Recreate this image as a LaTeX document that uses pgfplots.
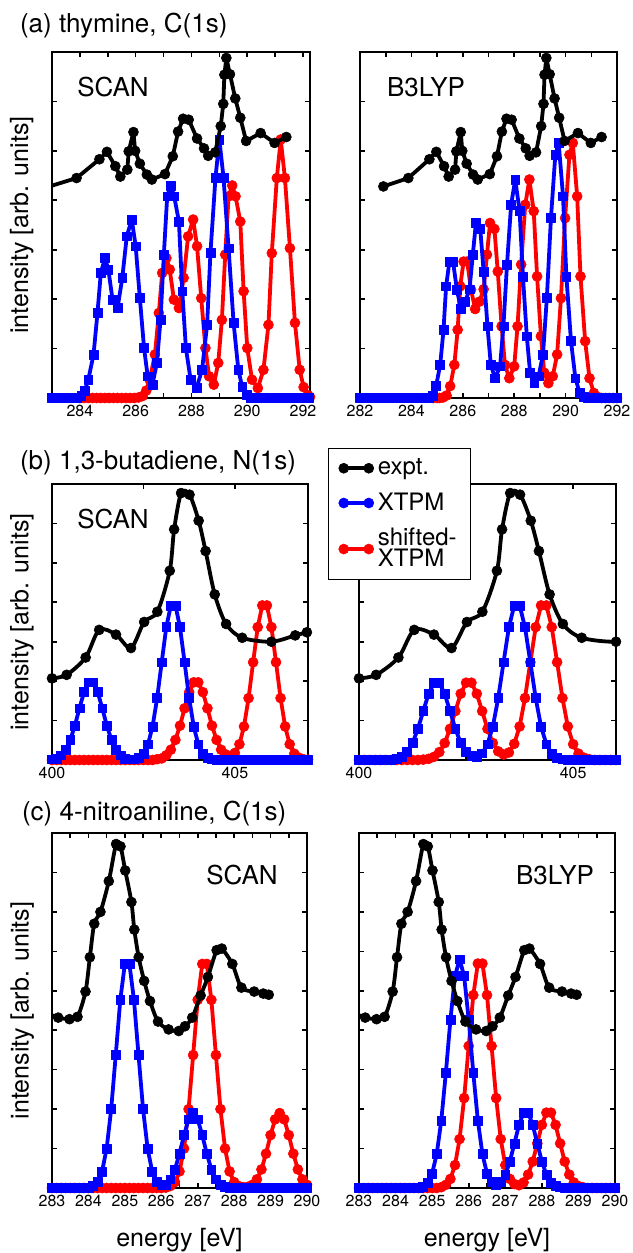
\documentclass[border=0pt]{standalone}
\usepackage{fontspec}
\setmainfont{TeX Gyre Heros}
\usepackage{pgfplots}
\usepackage{pgfplotstable}
\pgfplotsset{compat=1.18}

% experimental spectra (shared by the two panels of each row)
\pgfplotstableread[row sep=\\]{x y\\
282.91 4.28\\ 283.88 4.45\\ 284.70 4.83\\ 284.97 4.98\\ 285.27 4.69\\ 285.45 4.48\\
285.70 4.62\\ 285.75 4.99\\ 285.92 5.38\\ 285.98 5.00\\ 286.15 4.74\\ 286.40 4.52\\
286.58 4.42\\ 287.05 4.53\\ 287.33 4.89\\ 287.52 5.39\\ 287.70 5.65\\ 287.90 5.63\\
288.20 5.25\\ 288.45 5.05\\ 288.60 4.90\\ 288.85 4.97\\ 289.05 5.50\\ 289.14 5.95\\
289.18 6.54\\ 289.25 6.88\\ 289.38 6.55\\ 289.57 6.06\\ 289.75 5.67\\ 289.96 5.20\\
290.48 5.36\\ 290.98 5.16\\ 291.40 5.28\\
}\expA
\pgfplotstableread[row sep=\\]{x y\\
400.00 2.07\\ 400.40 2.16\\ 400.92 2.60\\ 401.29 3.30\\ 401.75 3.18\\ 402.16 2.84\\
402.52 3.50\\ 402.88 3.76\\ 403.22 4.80\\ 403.34 5.85\\ 403.53 6.77\\ 403.76 6.73\\
404.01 6.07\\ 404.20 5.30\\ 404.45 4.20\\ 404.76 3.45\\ 405.20 3.10\\ 406.00 3.00\\
406.65 3.16\\ 406.97 3.24\\
}\expB
\pgfplotstableread[row sep=\\]{x y\\
283.00 4.38\\ 283.17 4.32\\ 283.48 4.28\\ 283.70 4.34\\ 283.92 4.98\\ 284.04 5.85\\
284.16 6.70\\ 284.33 7.00\\ 284.56 7.78\\ 284.76 8.72\\ 284.88 8.66\\ 285.01 8.05\\
285.18 7.25\\ 285.26 6.55\\ 285.38 5.85\\ 285.53 5.25\\ 285.69 4.74\\ 285.91 4.22\\
286.20 4.02\\ 286.48 3.98\\ 286.65 4.10\\ 286.85 4.32\\ 287.08 4.88\\ 287.28 5.35\\
287.52 6.03\\ 287.66 6.07\\ 287.95 5.68\\ 288.20 5.08\\ 288.55 4.98\\ 288.80 4.93\\
288.95 4.90\\
}\expC

% (a) thymine, SCAN
\pgfplotstableread[row sep=\\]{x y\\
283.00 0\\ 283.15 0\\ 283.30 0\\ 283.45 0\\ 283.60 0\\ 283.75 0\\ 283.90 0.01\\
284.05 0.04\\ 284.18 0.15\\ 284.30 0.37\\ 284.49 0.88\\ 284.63 1.72\\ 284.75 2.53\\
284.90 2.83\\ 285.02 2.60\\ 285.17 1.99\\ 285.35 1.82\\ 285.52 2.43\\ 285.68 3.27\\
285.86 3.61\\ 286.00 3.07\\ 286.15 2.02\\ 286.30 1.01\\ 286.43 0.44\\ 286.60 0.27\\
286.76 0.71\\ 286.89 1.58\\ 287.01 2.90\\ 287.13 4.08\\ 287.26 4.30\\ 287.38 4.08\\
287.55 3.57\\ 287.67 2.16\\ 287.80 1.01\\ 287.97 0.37\\ 288.18 0.20\\ 288.38 0.57\\
288.56 1.48\\ 288.68 2.93\\ 288.86 4.45\\ 289.00 5.23\\ 289.15 4.45\\ 289.33 3.03\\
289.51 1.52\\ 289.68 0.57\\ 289.82 0.22\\ 289.97 0.06\\ 290.12 0\\ 290.27 0\\
290.42 0\\ 290.57 0\\ 290.72 0\\ 290.87 0\\ 291.02 0\\ 291.17 0\\ 291.32 0\\
291.47 0\\ 291.62 0\\ 291.77 0\\ 291.92 0\\ 292.07 0\\ 292.22 0\\
}\bluAa
\pgfplotstableread[row sep=\\]{x y\\
284.00 0\\ 284.15 0\\ 284.30 0\\ 284.45 0\\ 284.60 0\\ 284.75 0\\ 284.90 0\\
285.05 0\\ 285.20 0\\ 285.35 0\\ 285.50 0\\ 285.65 0\\ 285.80 0\\ 285.95 0\\
286.10 0.01\\ 286.25 0.04\\ 286.38 0.15\\ 286.50 0.37\\ 286.69 0.88\\ 286.83 1.72\\
286.95 2.53\\ 287.10 2.83\\ 287.22 2.60\\ 287.37 1.99\\ 287.55 1.82\\ 287.72 2.43\\
287.88 3.27\\ 288.06 3.61\\ 288.20 3.07\\ 288.35 2.02\\ 288.50 1.01\\ 288.63 0.44\\
288.80 0.27\\ 288.96 0.71\\ 289.09 1.58\\ 289.21 2.90\\ 289.33 4.08\\ 289.46 4.30\\
289.58 4.08\\ 289.75 3.57\\ 289.87 2.16\\ 290.00 1.01\\ 290.17 0.37\\ 290.38 0.20\\
290.58 0.57\\ 290.76 1.48\\ 290.88 2.93\\ 291.06 4.45\\ 291.20 5.23\\ 291.35 4.45\\
291.53 3.03\\ 291.71 1.52\\ 291.88 0.57\\ 292.02 0.22\\ 292.17 0.06\\ 292.25 0.02\\
}\redAa
% (a) thymine, B3LYP
\pgfplotstableread[row sep=\\]{x y\\
282.00 0\\ 282.15 0\\ 282.30 0\\ 282.45 0\\ 282.60 0\\ 282.75 0\\ 282.90 0\\
283.05 0\\ 283.20 0\\ 283.35 0\\ 283.50 0\\ 283.65 0\\ 283.80 0\\ 283.95 0\\
284.10 0\\ 284.25 0\\ 284.40 0\\ 284.55 0\\ 284.68 0.01\\ 284.82 0.05\\ 284.96 0.24\\
285.12 0.67\\ 285.25 1.38\\ 285.35 2.26\\ 285.48 2.76\\ 285.62 2.76\\ 285.77 2.19\\
285.93 1.80\\ 286.10 1.95\\ 286.26 2.20\\ 286.39 2.90\\ 286.51 3.54\\ 286.68 3.42\\
286.81 2.56\\ 286.96 1.45\\ 287.09 0.67\\ 287.26 0.40\\ 287.45 0.64\\ 287.58 1.45\\
287.72 2.70\\ 287.88 3.91\\ 288.04 4.42\\ 288.21 3.78\\ 288.34 2.46\\ 288.49 1.25\\
288.62 0.51\\ 288.78 0.30\\ 288.95 0.44\\ 289.12 0.88\\ 289.27 2.02\\ 289.43 3.64\\
289.60 4.92\\ 289.73 5.16\\ 289.90 4.08\\ 290.03 2.46\\ 290.21 1.15\\ 290.38 0.40\\
290.55 0.10\\ 290.70 0.02\\ 290.85 0\\ 291.00 0\\ 291.15 0\\ 291.30 0\\ 291.45 0\\
291.60 0\\ 291.75 0\\ 291.90 0\\ 292.00 0\\
}\bluAb
\pgfplotstableread[row sep=\\]{x y\\
284.85 0\\ 285.00 0\\ 285.10 0\\ 285.23 0.01\\ 285.37 0.05\\ 285.51 0.24\\
285.67 0.67\\ 285.80 1.38\\ 285.90 2.26\\ 286.03 2.76\\ 286.17 2.76\\ 286.32 2.19\\
286.48 1.80\\ 286.65 1.95\\ 286.81 2.20\\ 286.94 2.90\\ 287.06 3.54\\ 287.23 3.42\\
287.36 2.56\\ 287.51 1.45\\ 287.64 0.67\\ 287.81 0.40\\ 288.00 0.64\\ 288.13 1.45\\
288.27 2.70\\ 288.43 3.91\\ 288.59 4.42\\ 288.76 3.78\\ 288.89 2.46\\ 289.04 1.25\\
289.17 0.51\\ 289.33 0.30\\ 289.50 0.44\\ 289.67 0.88\\ 289.82 2.02\\ 289.98 3.64\\
290.15 4.92\\ 290.28 5.16\\ 290.45 4.08\\ 290.58 2.46\\ 290.76 1.15\\ 290.93 0.40\\
291.10 0.10\\ 291.25 0.02\\ 291.40 0\\ 291.55 0\\ 291.70 0\\ 291.85 0\\ 292.00 0\\
}\redAb

% (b) 1,3-butadiene, SCAN
\pgfplotstableread[row sep=\\]{x y\\
400 0.02\\ 400.125 0.04\\ 400.25 0.12\\ 400.375 0.26\\ 400.5 0.51\\ 400.625 0.87\\
400.75 1.31\\ 400.875 1.72\\ 401 1.97\\ 401.125 1.97\\ 401.25 1.72\\ 401.375 1.31\\
401.5 0.87\\ 401.625 0.51\\ 401.75 0.26\\ 401.875 0.12\\ 402 0.04\\ 402.125 0.02\\
402.25 0.02\\ 402.375 0.06\\ 402.5 0.16\\ 402.625 0.40\\ 402.75 0.85\\ 402.875 1.57\\
403 2.48\\ 403.125 3.37\\ 403.25 3.92\\ 403.375 3.92\\ 403.5 3.37\\ 403.625 2.48\\
403.75 1.57\\ 403.875 0.85\\ 404 0.40\\ 404.125 0.16\\ 404.25 0.06\\ 404.375 0.02\\
404.5 0\\ 404.625 0\\ 404.75 0\\ 404.875 0\\ 405 0\\ 405.125 0\\ 405.25 0\\
405.375 0\\ 405.5 0\\ 405.625 0\\ 405.75 0\\ 405.875 0\\ 406 0\\ 406.125 0\\
406.25 0\\ 406.375 0\\ 406.5 0\\ 406.625 0\\ 406.75 0\\ 406.875 0\\ 407 0\\
}\bluBa
\pgfplotstableread[row sep=\\]{x y\\
400 0\\ 400.125 0\\ 400.25 0\\ 400.375 0\\ 400.5 0\\ 400.625 0\\ 400.75 0\\
400.875 0\\ 401 0\\ 401.125 0\\ 401.25 0\\ 401.375 0\\ 401.5 0\\ 401.625 0\\
401.75 0\\ 401.875 0\\ 402 0\\ 402.125 0\\ 402.25 0\\ 402.375 0\\ 402.5 0\\
402.625 0\\ 402.75 0\\ 402.875 0.02\\ 403 0.04\\ 403.125 0.12\\ 403.25 0.26\\
403.375 0.51\\ 403.5 0.87\\ 403.625 1.31\\ 403.75 1.72\\ 403.875 1.97\\ 404 1.97\\
404.125 1.72\\ 404.25 1.31\\ 404.375 0.87\\ 404.5 0.51\\ 404.625 0.26\\ 404.75 0.14\\
404.875 0.10\\ 405 0.18\\ 405.125 0.40\\ 405.25 0.85\\ 405.375 1.57\\ 405.5 2.48\\
405.625 3.37\\ 405.75 3.92\\ 405.875 3.92\\ 406 3.37\\ 406.125 2.48\\ 406.25 1.57\\
406.375 0.85\\ 406.5 0.40\\ 406.625 0.16\\ 406.75 0.06\\ 406.875 0.02\\ 407 0.01\\
}\redBa
% (b) 1,3-butadiene, B3LYP
\pgfplotstableread[row sep=\\]{x y\\
400 0\\ 400.125 0\\ 400.25 0\\ 400.375 0\\ 400.5 0\\ 400.625 0\\ 400.75 0.01\\
400.875 0.03\\ 401 0.08\\ 401.125 0.20\\ 401.25 0.43\\ 401.375 0.79\\ 401.5 1.24\\
401.625 1.68\\ 401.75 1.96\\ 401.875 1.96\\ 402 1.68\\ 402.125 1.24\\ 402.25 0.79\\
402.375 0.43\\ 402.5 0.20\\ 402.625 0.10\\ 402.75 0.09\\ 402.875 0.17\\ 403 0.40\\
403.125 0.85\\ 403.25 1.57\\ 403.375 2.48\\ 403.5 3.37\\ 403.625 3.92\\ 403.75 3.92\\
403.875 3.37\\ 404 2.48\\ 404.125 1.57\\ 404.25 0.85\\ 404.375 0.40\\ 404.5 0.16\\
404.625 0.06\\ 404.75 0.02\\ 404.875 0\\ 405 0\\ 405.125 0\\ 405.25 0\\ 405.375 0\\
405.5 0\\ 405.625 0\\ 405.75 0\\ 405.875 0\\ 406 0\\
}\bluBb
\pgfplotstableread[row sep=\\]{x y\\
400 0\\ 400.125 0\\ 400.25 0\\ 400.375 0\\ 400.5 0\\ 400.625 0\\ 400.75 0\\
400.875 0\\ 401 0\\ 401.125 0\\ 401.25 0\\ 401.375 0\\ 401.5 0.01\\ 401.625 0.03\\
401.75 0.08\\ 401.875 0.20\\ 402 0.43\\ 402.125 0.79\\ 402.25 1.24\\ 402.375 1.68\\
402.5 1.96\\ 402.625 1.96\\ 402.75 1.68\\ 402.875 1.24\\ 403 0.79\\ 403.125 0.43\\
403.25 0.22\\ 403.375 0.14\\ 403.5 0.19\\ 403.625 0.41\\ 403.75 0.85\\ 403.875 1.57\\
404 2.48\\ 404.125 3.37\\ 404.25 3.92\\ 404.375 3.92\\ 404.5 3.37\\ 404.625 2.48\\
404.75 1.57\\ 404.875 0.85\\ 405 0.40\\ 405.125 0.16\\ 405.25 0.06\\ 405.375 0.02\\
405.5 0\\ 405.625 0\\ 405.75 0\\ 405.875 0\\ 406 0\\
}\redBb

% (c) 4-nitroaniline, SCAN
\pgfplotstableread[row sep=\\]{x y\\
283 0\\ 283.125 0\\ 283.25 0\\ 283.375 0\\ 283.5 0\\ 283.625 0\\ 283.75 0\\
283.875 0\\ 284 0.01\\ 284.125 0.05\\ 284.25 0.15\\ 284.375 0.42\\ 284.5 1.00\\
284.625 2.00\\ 284.75 3.37\\ 284.875 4.77\\ 285 5.68\\ 285.125 5.68\\ 285.25 4.77\\
285.375 3.37\\ 285.5 2.00\\ 285.625 1.00\\ 285.75 0.42\\ 285.875 0.16\\ 286 0.08\\
286.125 0.09\\ 286.25 0.22\\ 286.375 0.47\\ 286.5 0.87\\ 286.625 1.34\\ 286.75 1.74\\
286.875 1.90\\ 287 1.74\\ 287.125 1.34\\ 287.25 0.87\\ 287.375 0.47\\ 287.5 0.22\\
287.625 0.08\\ 287.75 0.03\\ 287.875 0.01\\ 288 0\\ 288.125 0\\ 288.25 0\\
288.375 0\\ 288.5 0\\ 288.625 0\\ 288.75 0\\ 288.875 0\\ 289 0\\ 289.125 0\\
289.25 0\\ 289.375 0\\ 289.5 0\\ 289.625 0\\ 289.75 0\\ 289.875 0\\ 290 0\\
}\bluCa
\pgfplotstableread[row sep=\\]{x y\\
283 0\\ 283.125 0\\ 283.25 0\\ 283.375 0\\ 283.5 0\\ 283.625 0\\ 283.75 0\\
283.875 0\\ 284 0\\ 284.125 0\\ 284.25 0\\ 284.375 0\\ 284.5 0\\ 284.625 0\\
284.75 0\\ 284.875 0\\ 285 0\\ 285.125 0\\ 285.25 0\\ 285.375 0\\ 285.5 0\\
285.625 0\\ 285.75 0\\ 285.875 0\\ 286 0\\ 286.125 0.01\\ 286.25 0.05\\
286.375 0.15\\ 286.5 0.42\\ 286.625 1.00\\ 286.75 2.00\\ 286.875 3.37\\ 287 4.77\\
287.125 5.68\\ 287.25 5.68\\ 287.375 4.77\\ 287.5 3.37\\ 287.625 2.00\\ 287.75 1.00\\
287.875 0.42\\ 288 0.15\\ 288.125 0.05\\ 288.25 0.02\\ 288.375 0.03\\ 288.5 0.08\\
288.625 0.22\\ 288.75 0.47\\ 288.875 0.87\\ 289 1.34\\ 289.125 1.74\\ 289.25 1.90\\
289.375 1.74\\ 289.5 1.34\\ 289.625 0.87\\ 289.75 0.47\\ 289.875 0.22\\ 290 0.08\\
}\redCa
% (c) 4-nitroaniline, B3LYP
\pgfplotstableread[row sep=\\]{x y\\
283 0\\ 283.125 0\\ 283.25 0\\ 283.375 0\\ 283.5 0\\ 283.625 0\\ 283.75 0\\
283.875 0\\ 284 0\\ 284.125 0\\ 284.25 0\\ 284.375 0\\ 284.5 0\\ 284.625 0.01\\
284.75 0.04\\ 284.875 0.14\\ 285 0.37\\ 285.125 0.86\\ 285.25 1.71\\ 285.375 2.92\\
285.5 4.27\\ 285.625 5.37\\ 285.75 5.80\\ 285.875 5.37\\ 286 4.27\\ 286.125 2.92\\
286.25 1.71\\ 286.375 0.86\\ 286.5 0.37\\ 286.625 0.16\\ 286.75 0.09\\ 286.875 0.15\\
287 0.34\\ 287.125 0.67\\ 287.25 1.13\\ 287.375 1.60\\ 287.5 1.91\\ 287.625 1.91\\
287.75 1.60\\ 287.875 1.13\\ 288 0.67\\ 288.125 0.34\\ 288.25 0.14\\ 288.375 0.05\\
288.5 0.02\\ 288.625 0\\ 288.75 0\\ 288.875 0\\ 289 0\\ 289.125 0\\ 289.25 0\\
289.375 0\\ 289.5 0\\ 289.625 0\\ 289.75 0\\ 289.875 0\\ 290 0\\
}\bluCb
\pgfplotstableread[row sep=\\]{x y\\
283 0\\ 283.125 0\\ 283.25 0\\ 283.375 0\\ 283.5 0\\ 283.625 0\\ 283.75 0\\
283.875 0\\ 284 0\\ 284.125 0\\ 284.25 0\\ 284.375 0\\ 284.5 0\\ 284.625 0\\
284.75 0\\ 284.875 0\\ 285 0\\ 285.125 0\\ 285.25 0.02\\ 285.375 0.08\\ 285.5 0.23\\
285.625 0.58\\ 285.75 1.24\\ 285.875 2.28\\ 286 3.60\\ 286.125 4.89\\ 286.25 5.69\\
286.375 5.69\\ 286.5 4.89\\ 286.625 3.60\\ 286.75 2.28\\ 286.875 1.24\\ 287 0.58\\
287.125 0.23\\ 287.25 0.10\\ 287.375 0.07\\ 287.5 0.14\\ 287.625 0.34\\ 287.75 0.67\\
287.875 1.13\\ 288 1.60\\ 288.125 1.91\\ 288.25 1.91\\ 288.375 1.60\\ 288.5 1.13\\
288.625 0.67\\ 288.75 0.34\\ 288.875 0.14\\ 289 0.05\\ 289.125 0.02\\ 289.25 0\\
289.375 0\\ 289.5 0\\ 289.625 0\\ 289.75 0\\ 289.875 0\\ 290 0\\
}\redCb

\pgfplotsset{
  /pgf/number format/assume math mode=true,
  panel/.style={
    scale only axis, clip mode=individual,
    axis line style={line width=1pt},
    tick align=inside, tick style={line width=0.8pt, black},
    major tick length=2.6pt, minor tick length=2.6pt,
    ymin=0, ytick distance=1, yticklabels={},
    minor x tick num=1,
    xticklabel style={font=\fontsize{8}{9}\selectfont},
    label style={font=\fontsize{12.5}{14}\selectfont},
    ylabel style={at={(axis description cs:-0.117,0.5)}, anchor=center},
    xlabel style={at={(axis description cs:0.5,-0.146)}, anchor=center},
  },
  ex/.style={black, line width=1.9pt, line join=round, mark=*, mark size=2.5pt,
    mark options={line width=0.3pt}},
  xt/.style={blue, line width=1.9pt, line join=round, mark=square*, mark size=2.2pt,
    mark options={line width=0.3pt}},
  sx/.style={red, line width=1.9pt, line join=round, mark=*, mark size=2.5pt,
    mark options={line width=0.3pt}},
}

\begin{document}
\begin{tikzpicture}
\useasboundingbox (0,0) rectangle (316pt,626.5pt);

% ---- row (a)
\begin{axis}[panel, at={(26pt,427.5pt)}, anchor=south west, width=129pt, height=173pt,
  xmin=283, xmax=292.25, ymax=7, xtick={284,286,...,292},
  ylabel={intensity [arb. units]}]
\addplot[sx] table {\redAa};
\addplot[xt] table {\bluAa};
\addplot[ex, mark=none] table {\expA};
\addplot[ex, only marks, restrict x to domain=283:293] table {\expA};
\end{axis}
\begin{axis}[panel, at={(180pt,427.5pt)}, anchor=south west, width=128.5pt, height=173pt,
  xmin=282, xmax=292, ymax=7, xtick={282,284,...,292}]
\addplot[sx] table {\redAb};
\addplot[xt] table {\bluAb};
\addplot[ex] table {\expA};
\end{axis}

% ---- row (b)
\begin{axis}[panel, at={(26pt,246.5pt)}, anchor=south west, width=128pt, height=138pt,
  xmin=400, xmax=407, ymax=7, xtick={400,405},
  ylabel={intensity [arb. units]}]
\addplot[sx] table {\redBa};
\addplot[xt] table {\bluBa};
\addplot[ex, mark=none, smooth, tension=0.5] table {\expB};
\addplot[ex, only marks] table {\expB};
\end{axis}
\begin{axis}[panel, at={(179.5pt,246.5pt)}, anchor=south west, width=128.5pt, height=138pt,
  xmin=400, xmax=406, ymax=7, xtick={400,405},
  legend style={at={(-0.12,1.13)}, anchor=north west, draw=black, line width=0.6pt,
    fill=white, font=\fontsize{12}{10.5}\selectfont, cells={anchor=west, align=left},
    row sep=3.5pt, inner xsep=5pt, inner ysep=3pt},
  legend image code/.code={\draw[#1, line width=1.9pt, mark size=2.5pt,
    mark options={line width=0.3pt}] plot coordinates {(0pt,0pt) (12.5pt,0pt)};}]
\addlegendimage{black, mark=*}
\addlegendentry{expt.}
\addlegendimage{blue, mark=*}
\addlegendentry{XTPM}
\addlegendimage{red, mark=*}
\addlegendentry{shifted-\\XTPM}
\addplot[sx, forget plot] table {\redBb};
\addplot[xt, forget plot] table {\bluBb};
\addplot[ex, mark=none, smooth, tension=0.5, forget plot] table {\expB};
\addplot[ex, only marks, restrict x to domain=399:406.01, forget plot] table {\expB};
\end{axis}

% ---- row (c)
\begin{axis}[panel, at={(26pt,32.5pt)}, anchor=south west, width=127.5pt, height=177.5pt,
  xmin=283, xmax=290, ymax=9, xtick={283,...,290},
  ylabel={intensity [arb. units]}, xlabel={energy [eV]}]
\addplot[sx] table {\redCa};
\addplot[xt] table {\bluCa};
\addplot[ex, mark=none, smooth, tension=0.5] table {\expC};
\addplot[ex, only marks, restrict x to domain=283.05:291] table {\expC};
\end{axis}
\begin{axis}[panel, at={(179.5pt,32.5pt)}, anchor=south west, width=128pt, height=177.5pt,
  xmin=283, xmax=290, ymax=9, xtick={283,...,290}, xlabel={energy [eV]}]
\addplot[sx] table {\redCb};
\addplot[xt] table {\bluCb};
\addplot[ex, mark=none, smooth, tension=0.5] table {\expC};
\addplot[ex, only marks, restrict x to domain=283.05:291] table {\expC};
\end{axis}

% titles and method labels
\begin{scope}[every node/.style={font=\fontsize{13}{15}\selectfont}]
\node[anchor=west] at (6.5pt,613.5pt) {(a) thymine, C(1s)};
\node[anchor=west] at (6.5pt,395pt) {(b) 1,3-butadiene, N(1s)};
\node[anchor=west] at (7.5pt,219.75pt) {(c) 4-nitroaniline, C(1s)};
\node at (56.5pt,583pt) {SCAN};
\node at (213pt,583pt) {B3LYP};
\node at (56.5pt,367pt) {SCAN};
\node at (121pt,189pt) {SCAN};
\node at (277.5pt,189pt) {B3LYP};
\end{scope}
\end{tikzpicture}
\end{document}
